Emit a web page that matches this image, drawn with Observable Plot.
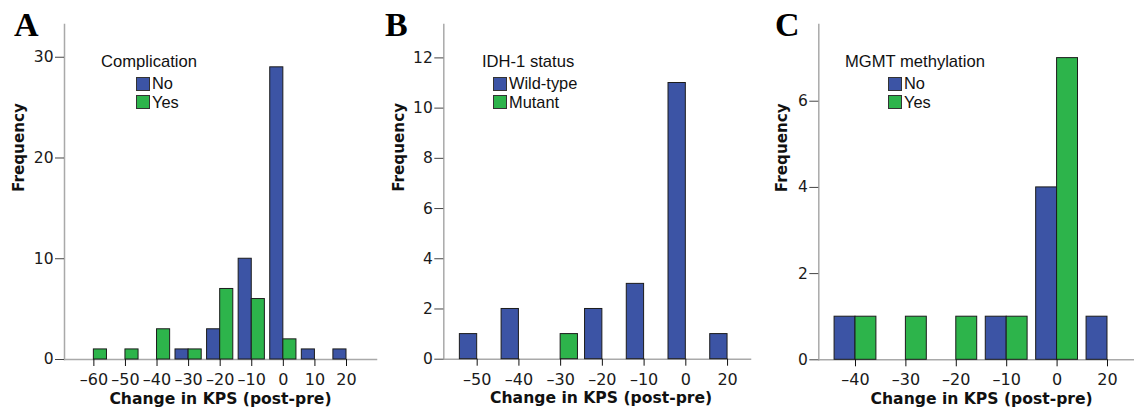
<!DOCTYPE html>
<html>
<head>
<meta charset="utf-8">
<script src="https://cdn.jsdelivr.net/npm/d3@7"></script>
<script src="https://cdn.jsdelivr.net/npm/@observablehq/plot@0.6"></script>
<style>
  html, body { margin: 0; padding: 0; background: #fff; }
  #fig { position: relative; width: 1134px; height: 413px; overflow: hidden; background: #fff; }
  .panel { position: absolute; top: 0; }
  .letter { position: absolute; font-family: "Liberation Serif", "DejaVu Serif", serif; font-weight: bold; font-size: 34px; line-height: 34px; color: #000; }
  .ltitle { position: absolute; font-family: "Liberation Sans", Arial, sans-serif; font-size: 16.6px; line-height: 16.6px; color: #111; white-space: nowrap; }
  .litem { position: absolute; font-family: "Liberation Sans", Arial, sans-serif; font-size: 16.4px; line-height: 16.4px; color: #111; white-space: nowrap; }
  .sw { position: absolute; width: 14px; height: 14px; box-sizing: border-box; border: 1px solid #333; }
</style>
</head>
<body>
<div id="fig"></div>
<script>
// ---------- data ----------
const xLabel = "Change in KPS (post-pre)";
const yLabel = "Frequency";

// Panel A
const catsA = [-60, -50, -40, -30, -20, -10, 0, 10, 20];
const seriesNamesA = ["No", "Yes"];
const legendTitleA = "Complication";
const noA  = [0, 0, 0, 1, 3, 10, 29, 1, 1];
const yesA = [1, 1, 3, 1, 7, 6, 2, 0, 0];
const yTicksA = [0, 10, 20, 30];

// Panel B
const catsB = [-50, -40, -30, -20, -10, 0, 20];
const seriesNamesB = ["Wild-type", "Mutant"];
const legendTitleB = "IDH-1 status";
const wildB   = [1, 2, 0, 2, 3, 11, 1];
const mutantB = [0, 0, 1, 0, 0, 0, 0];
const yTicksB = [0, 2, 4, 6, 8, 10, 12];

// Panel C
const catsC = [-40, -30, -20, -10, 0, 20];
const seriesNamesC = ["No", "Yes"];
const legendTitleC = "MGMT methylation";
const noC  = [1, 0, 0, 1, 4, 1];
const yesC = [1, 1, 1, 1, 7, 0];
const yTicksC = [0, 2, 4, 6];

// ---------- style ----------
const BLUE = "#3c54a5";
const GREEN = "#2db44b";
const AXIS = "#a9a9a9";
const HALF = 0.415; // bar width in category units

const fig = document.getElementById("fig");

function fmt(v) { return v < 0 ? "\u2013" + Math.abs(v) : String(v); }

function panel(cfg) {
  const rows = [];
  cfg.cats.forEach((c, i) => {
    if (cfg.s1[i] > 0) rows.push({x1: i - HALF, x2: i, y: cfg.s1[i], s: 0});
    if (cfg.s2[i] > 0) rows.push({x1: i, x2: i + HALF, y: cfg.s2[i], s: 1});
  });
  const idx = cfg.cats.map((c, i) => i);
  const plot = Plot.plot({
    width: cfg.width,
    height: 413,
    marginLeft: cfg.ml,
    marginRight: cfg.mr,
    marginTop: 24,
    marginBottom: cfg.mb,
    style: {fontFamily: "DejaVu Sans, Verdana, sans-serif", color: "#1a1a1a", background: "transparent"},
    x: {type: "linear", domain: cfg.xdom, axis: null},
    y: {domain: [0, cfg.ymax], axis: null},
    marks: [
      Plot.frame({anchor: "left", stroke: AXIS, strokeWidth: 1.5}),
      Plot.frame({anchor: "bottom", stroke: AXIS, strokeWidth: 1.5}),
      Plot.rectY(rows, {x1: "x1", x2: "x2", y1: 0, y2: "y",
        fill: d => d.s === 0 ? BLUE : GREEN, stroke: "#1c1c1c", strokeWidth: 1}),
      Plot.axisX(idx, {tickFormat: i => fmt(cfg.cats[i]), tickSize: 7, tickPadding: 7,
        fontSize: 16, label: null, stroke: "#111"}),
      Plot.axisY(cfg.yticks, {tickSize: 9, tickPadding: 2, fontSize: 15.5, label: null, stroke: "#444"}),
      Plot.text([xLabel], {text: d => d, frameAnchor: "bottom", dy: 44, dx: cfg.xlabDx,
        fontWeight: "bold", fontSize: 15.6, fill: "#111"}),
      Plot.text([yLabel], {text: d => d, frameAnchor: "left", rotate: -90, dx: -cfg.ylabOff,
        fontWeight: "bold", fontSize: 15.2, fill: "#111"})
    ]
  });
  const div = document.createElement("div");
  div.className = "panel";
  div.style.left = cfg.left + "px";
  div.appendChild(plot);
  fig.appendChild(div);

  const L = document.createElement("div");
  L.className = "letter";
  L.textContent = cfg.letter;
  L.style.left = cfg.letterX + "px";
  L.style.top = "7.5px";
  fig.appendChild(L);

  const t = document.createElement("div");
  t.className = "ltitle";
  t.textContent = cfg.legendTitle;
  t.style.left = cfg.legX + "px";
  t.style.top = "54.3px";
  fig.appendChild(t);
  [BLUE, GREEN].forEach((col, k) => {
    const sw = document.createElement("div");
    sw.className = "sw";
    sw.style.background = col;
    sw.style.left = cfg.swX + "px";
    sw.style.top = (77 + k * 17.5) + "px";
    fig.appendChild(sw);
    const it = document.createElement("div");
    it.className = "litem";
    it.textContent = cfg.names[k];
    it.style.left = (cfg.swX + 16) + "px";
    it.style.top = (75.3 + k * 19) + "px";
    fig.appendChild(it);
  });
}

panel({letter: "A", left: 0, width: 378, ml: 64, mr: 2, mb: 54,
  xdom: [-0.93, 8.95], ymax: 33.25, cats: catsA, s1: noA, s2: yesA, yticks: yTicksA,
  names: seriesNamesA, legendTitle: legendTitleA, legX: 101, swX: 136, letterX: 14,
  xlabDx: 0, ylabOff: 45.7});
panel({letter: "B", left: 380, width: 375, ml: 63.3, mr: 5, mb: 54.3,
  xdom: [-0.80, 6.55], ymax: 13.33, cats: catsB, s1: wildB, s2: mutantB, yticks: yTicksB,
  names: seriesNamesB, legendTitle: legendTitleB, legX: 482, swX: 493, letterX: 385,
  xlabDx: 4, ylabOff: 45});
panel({letter: "C", left: 760, width: 374, ml: 58.3, mr: 0, mb: 53.7,
  xdom: [-0.728, 5.536], ymax: 7.78, cats: catsC, s1: noC, s2: yesC, yticks: yTicksC,
  names: seriesNamesC, legendTitle: legendTitleC, legX: 845, swX: 888, letterX: 775,
  xlabDx: 5, ylabOff: 36.6});
</script>
</body>
</html>
